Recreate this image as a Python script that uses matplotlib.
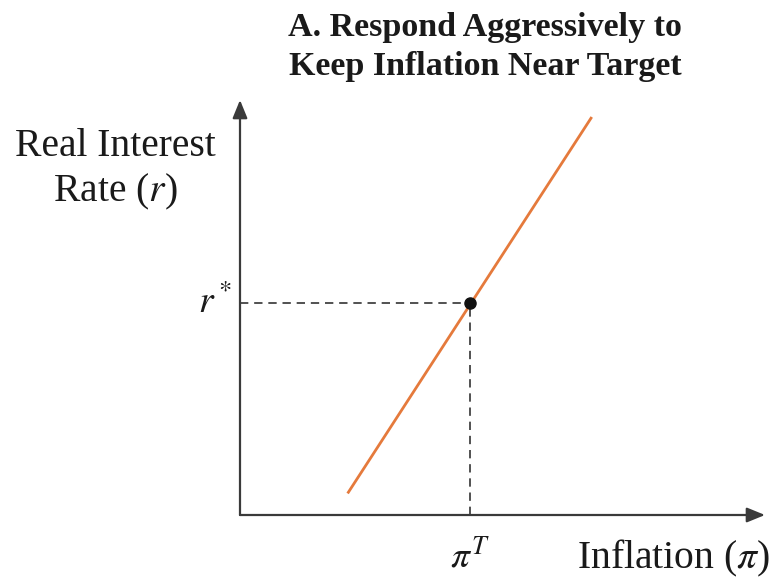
import matplotlib.pyplot as plt

plt.rcParams['font.family'] = ['Liberation Serif', 'DejaVu Serif']
plt.rcParams['mathtext.fontset'] = 'stix'

# policy rule line (inflation, real rate) and the target point
inflation = [2.05, 6.7]
real_rate = [0.52, 9.59]
pi_target = 4.38
r_star = 5.11

title = "A. Respond Aggressively to\nKeep Inflation Near Target"

fig = plt.figure(figsize=(7.73, 5.78), dpi=100)
ax = fig.add_axes([240/773, 63/578, 525/773, 415/578])
ax.set_xlim(0, 10)
ax.set_ylim(0, 10)
ax.axis('off')

axis_col = '#3a3a3a'
txt_col = '#1a1a1a'
# axes drawn as arrows
for end in [(10, 0), (0, 10)]:
    ax.annotate('', xy=end, xytext=(0, 0), xycoords='data',
                arrowprops=dict(arrowstyle='-|>,head_length=1.1,head_width=0.45',
                                color=axis_col, lw=1.6, shrinkA=0, shrinkB=0),
                annotation_clip=False)

# dashed guides to the target
ax.plot([0, pi_target], [r_star, r_star], ls=(0, (5, 3.5)), color='#333333', lw=1.2)
ax.plot([pi_target, pi_target], [0, r_star], ls=(0, (5, 3.5)), color='#333333', lw=1.2)

ax.plot(inflation, real_rate, color='#E57A3C', lw=2.0, solid_capstyle='butt')
ax.plot([pi_target], [r_star], 'o', color='#111111', ms=8, zorder=5)

ax.text(-0.15, r_star, r'$r^*$', ha='right', va='center', fontsize=27, color=txt_col)
ax.text(pi_target, -0.6, r'$\pi^T$', ha='center', va='top', fontsize=27, color=txt_col)

fig.text(1 - 3/773, 20/578, r'Inflation ($\pi$)', ha='right', va='center',
         fontsize=28.5, color=txt_col)
fig.text(115/773, 1 - 170/578, 'Real Interest\nRate ($r$)', ha='center', va='center',
         fontsize=28.5, color=txt_col, linespacing=1.2)
fig.text(485/773, 1 - 47/578, title, ha='center', va='center', fontsize=24.5,
         fontweight='bold', color=txt_col, linespacing=1.32)

fig.savefig('out.png', dpi=100)
